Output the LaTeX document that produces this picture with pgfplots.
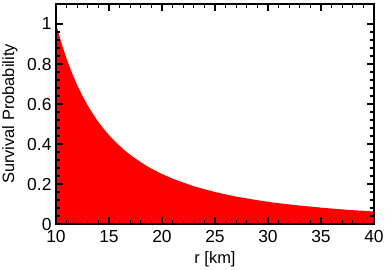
\documentclass[border=0pt]{standalone}
\usepackage{pgfplots}
\pgfplotsset{compat=1.18}
\usepackage{fontspec}
\setmainfont{Liberation Sans}
\begin{document}
\begin{tikzpicture}[x=1bp,y=1bp]
\begin{axis}[
  scale only axis,
  width=318bp, height=220bp,
  xmin=10, xmax=40, ymin=0, ymax=1.1,
  xtick={10,15,...,40},
  ytick={0,0.2,...,1.0},
  minor x tick num=4,
  minor y tick num=4,
  tick align=inside,
  major tick length=7bp,
  minor tick length=4bp,
  every tick/.style={black, line width=1.1bp},
  axis line style={line width=1.3bp},
  tick label style={font=\fontsize{17.5}{17.5}\selectfont},
  label style={font=\fontsize{16.5}{16.5}\selectfont},
  /pgf/number format/assume math mode=true,
  xlabel={r [km]},
  ylabel={Survival Probability},
  xticklabel style={yshift=-3bp},
  xlabel style={at={(axis description cs:0.5,-0.159)}, anchor=center},
  ylabel style={at={(axis description cs:-0.145,0.5)}, anchor=center},
  yticklabel style={xshift=-1bp},
  axis on top,
]
\addplot[fill=red, draw=none] coordinates {
(10,1.0) (10.5,0.907) (11,0.826) (11.5,0.756) (12,0.694) (12.5,0.64) (13,0.592) (13.5,0.549) (14,0.51)
(14.5,0.476) (15,0.444) (15.5,0.416) (16,0.391) (16.5,0.367) (17,0.346) (17.5,0.327) (18,0.309)
(18.5,0.292) (19,0.277) (19.5,0.263) (20,0.25) (21,0.227) (22,0.207) (23,0.189) (24,0.174)
(25,0.16) (26,0.148) (27,0.137) (28,0.128) (29,0.119) (30,0.111) (31,0.104) (32,0.098)
(33,0.092) (34,0.087) (35,0.082) (36,0.077) (37,0.073) (38,0.069) (39,0.066) (40,0.0625)
(40,0) (10,0)
} \closedcycle;
\end{axis}
\pgfresetboundingbox
\path ([shift={(-56bp,-46bp)}]current axis.south west) rectangle ([shift={(11bp,4bp)}]current axis.north east);
\end{tikzpicture}
\end{document}
